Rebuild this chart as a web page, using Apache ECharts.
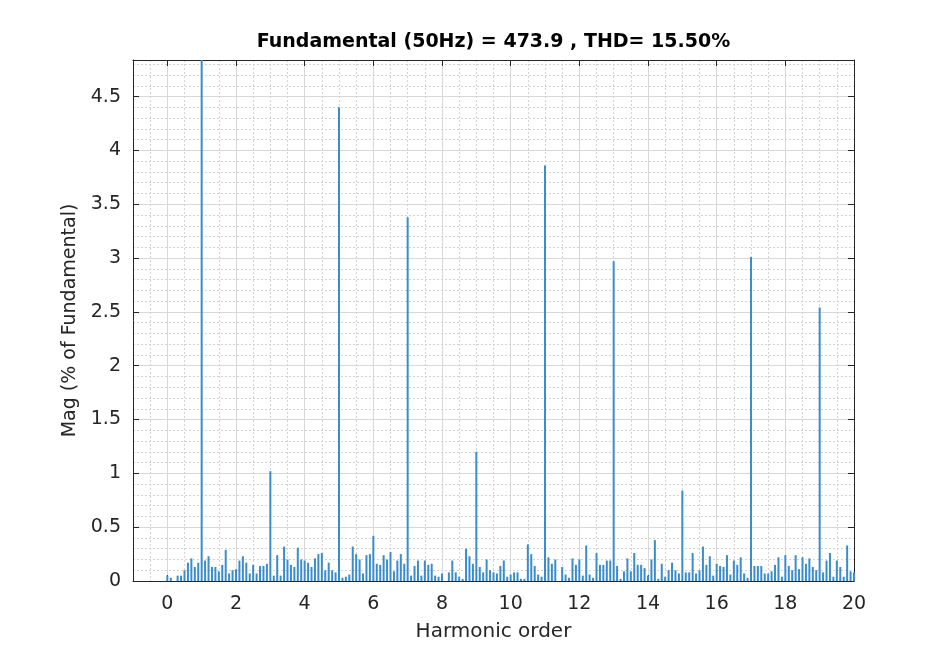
<!DOCTYPE html>
<html><head><meta charset="utf-8">
<script src="https://cdn.jsdelivr.net/npm/echarts@6/dist/echarts.min.js"></script>
<style>html,body{margin:0;padding:0;background:#fff}#c{width:929px;height:645px}</style>
</head><body><div id="c"></div>
<script>
const titleText = 'Fundamental (50Hz) = 473.9 , THD= 15.50%';
const xName = 'Harmonic order';
const yName = 'Mag (% of Fundamental)';
const harmonicOrder = [
 0.0,0.1,0.2,0.3,0.4,0.5,0.6,0.7,0.8,0.9,
 1.0,1.1,1.2,1.3,1.4,1.5,1.6,1.7,1.8,1.9,
 2.0,2.1,2.2,2.3,2.4,2.5,2.6,2.7,2.8,2.9,
 3.0,3.1,3.2,3.3,3.4,3.5,3.6,3.7,3.8,3.9,
 4.0,4.1,4.2,4.3,4.4,4.5,4.6,4.7,4.8,4.9,
 5.0,5.1,5.2,5.3,5.4,5.5,5.6,5.7,5.8,5.9,
 6.0,6.1,6.2,6.3,6.4,6.5,6.6,6.7,6.8,6.9,
 7.0,7.1,7.2,7.3,7.4,7.5,7.6,7.7,7.8,7.9,
 8.0,8.1,8.2,8.3,8.4,8.5,8.6,8.7,8.8,8.9,
 9.0,9.1,9.2,9.3,9.4,9.5,9.6,9.7,9.8,9.9,
 10.0,10.1,10.2,10.3,10.4,10.5,10.6,10.7,10.8,10.9,
 11.0,11.1,11.2,11.3,11.4,11.5,11.6,11.7,11.8,11.9,
 12.0,12.1,12.2,12.3,12.4,12.5,12.6,12.7,12.8,12.9,
 13.0,13.1,13.2,13.3,13.4,13.5,13.6,13.7,13.8,13.9,
 14.0,14.1,14.2,14.3,14.4,14.5,14.6,14.7,14.8,14.9,
 15.0,15.1,15.2,15.3,15.4,15.5,15.6,15.7,15.8,15.9,
 16.0,16.1,16.2,16.3,16.4,16.5,16.6,16.7,16.8,16.9,
 17.0,17.1,17.2,17.3,17.4,17.5,17.6,17.7,17.8,17.9,
 18.0,18.1,18.2,18.3,18.4,18.5,18.6,18.7,18.8,18.9,
 19.0,19.1,19.2,19.3,19.4,19.5,19.6,19.7,19.8,19.9,
 20.0
];
const magnitude = [
 0.05,0.03,0.00,0.05,0.05,0.10,0.17,0.21,0.13,0.17,
 100,0.19,0.23,0.13,0.13,0.09,0.15,0.29,0.07,0.10,
 0.11,0.19,0.23,0.17,0.07,0.15,0.07,0.14,0.14,0.16,
 1.02,0.05,0.24,0.05,0.32,0.20,0.15,0.13,0.31,0.20,
 0.19,0.17,0.13,0.21,0.25,0.26,0.10,0.17,0.10,0.08,
 4.40,0.03,0.04,0.06,0.32,0.25,0.20,0.07,0.24,0.25,
 0.42,0.16,0.15,0.24,0.20,0.27,0.09,0.19,0.25,0.16,
 3.38,0.05,0.14,0.19,0.05,0.19,0.15,0.16,0.05,0.04,
 0.07,0.00,0.08,0.19,0.08,0.04,0.02,0.30,0.23,0.16,
 1.20,0.13,0.08,0.20,0.10,0.08,0.07,0.14,0.19,0.04,
 0.06,0.08,0.08,0.02,0.02,0.34,0.25,0.14,0.06,0.04,
 3.86,0.22,0.16,0.20,0.00,0.13,0.06,0.03,0.21,0.15,
 0.20,0.05,0.33,0.06,0.03,0.26,0.15,0.15,0.19,0.19,
 2.97,0.14,0.02,0.09,0.21,0.09,0.26,0.15,0.15,0.12,
 0.05,0.20,0.38,0.02,0.16,0.04,0.10,0.17,0.10,0.07,
 0.84,0.08,0.08,0.26,0.07,0.10,0.32,0.15,0.23,0.05,
 0.16,0.14,0.13,0.24,0.06,0.19,0.15,0.22,0.07,0.03,
 3.01,0.14,0.14,0.14,0.07,0.07,0.09,0.15,0.22,0.04,
 0.24,0.14,0.10,0.24,0.11,0.22,0.16,0.21,0.13,0.10,
 2.54,0.08,0.19,0.26,0.04,0.19,0.13,0.04,0.33,0.09,
 0.08
];
const xMin = -1, xMax = 20, yMin = 0, yMax = 4.84;

const chart = echarts.init(document.getElementById('c'), null, {renderer: 'canvas'});
const font = '"DejaVu Sans", "Liberation Sans", Arial, sans-serif';
const axisCol = '#262626';
const gridLeft = 133, gridRight = 75, gridTop = 60, gridBottom = 64;
const minorLine = {show: true, lineStyle: {color: '#d3d3d3', type: [2, 2], width: 1}};
const majorLine = {show: true, lineStyle: {color: '#d8d8d8', width: 1}};
const hide = {show: false};
const data = harmonicOrder.map((h, i) => [h, magnitude[i]]);

chart.setOption({
  backgroundColor: '#ffffff',
  animation: false,
  textStyle: {fontFamily: font},
  grid: {left: gridLeft, right: gridRight, top: gridTop, bottom: gridBottom,
         containLabel: false, outerBoundsMode: 'none'},
  graphic: [{
    type: 'text', x: gridLeft + (929 - gridLeft - gridRight) / 2, y: 42,
    style: {text: titleText, font: 'bold 19px ' + font, fill: '#000', align: 'center', verticalAlign: 'middle'}
  }],
  xAxis: [
    {type: 'value', min: xMin, max: xMax, interval: 0.5, position: 'bottom',
     axisLine: hide, axisTick: hide, axisLabel: hide, splitLine: minorLine},
    {type: 'value', min: xMin, max: xMax, splitNumber: 10, position: 'bottom',
     axisLine: {show: true, onZero: false, lineStyle: {color: axisCol, width: 1}},
     axisTick: {show: true, inside: true, length: 6, lineStyle: {color: axisCol}},
     axisLabel: {show: true, fontSize: 19, color: axisCol, margin: 14, showMinLabel: false,
                 formatter: v => (v < 0 ? '' : String(v))},
     splitLine: majorLine,
     name: xName, nameLocation: 'middle', nameGap: 41,
     nameTextStyle: {fontSize: 20, color: axisCol}},
    {type: 'value', min: xMin, max: xMax, splitNumber: 10, position: 'top',
     axisLine: {show: true, onZero: false, lineStyle: {color: axisCol, width: 1}},
     axisTick: {show: true, inside: true, length: 6, lineStyle: {color: axisCol}},
     axisLabel: hide, splitLine: hide}
  ],
  yAxis: [
    {type: 'value', min: yMin, max: yMax, interval: 0.1, position: 'left',
     axisLine: hide, axisTick: hide, axisLabel: hide, splitLine: minorLine},
    {type: 'value', min: yMin, max: yMax, interval: 0.5, position: 'left',
     axisLine: {show: true, onZero: false, lineStyle: {color: axisCol, width: 1}},
     axisTick: {show: true, inside: true, length: 6, lineStyle: {color: axisCol}},
     axisLabel: {show: true, fontSize: 19, color: axisCol, margin: 12, showMaxLabel: false},
     splitLine: majorLine,
     name: yName, nameLocation: 'middle', nameGap: 47,
     nameTextStyle: {fontSize: 19, color: axisCol}},
    {type: 'value', min: yMin, max: yMax, interval: 0.5, position: 'right',
     axisLine: {show: true, onZero: false, lineStyle: {color: axisCol, width: 1}},
     axisTick: {show: true, inside: true, length: 6, lineStyle: {color: axisCol}},
     axisLabel: hide, splitLine: hide}
  ],
  series: [{
    type: 'bar', xAxisIndex: 1, yAxisIndex: 1, data: data,
    barWidth: 2, clip: true,
    itemStyle: {color: '#3a8dcc'}
  }]
});
</script>
</body></html>
